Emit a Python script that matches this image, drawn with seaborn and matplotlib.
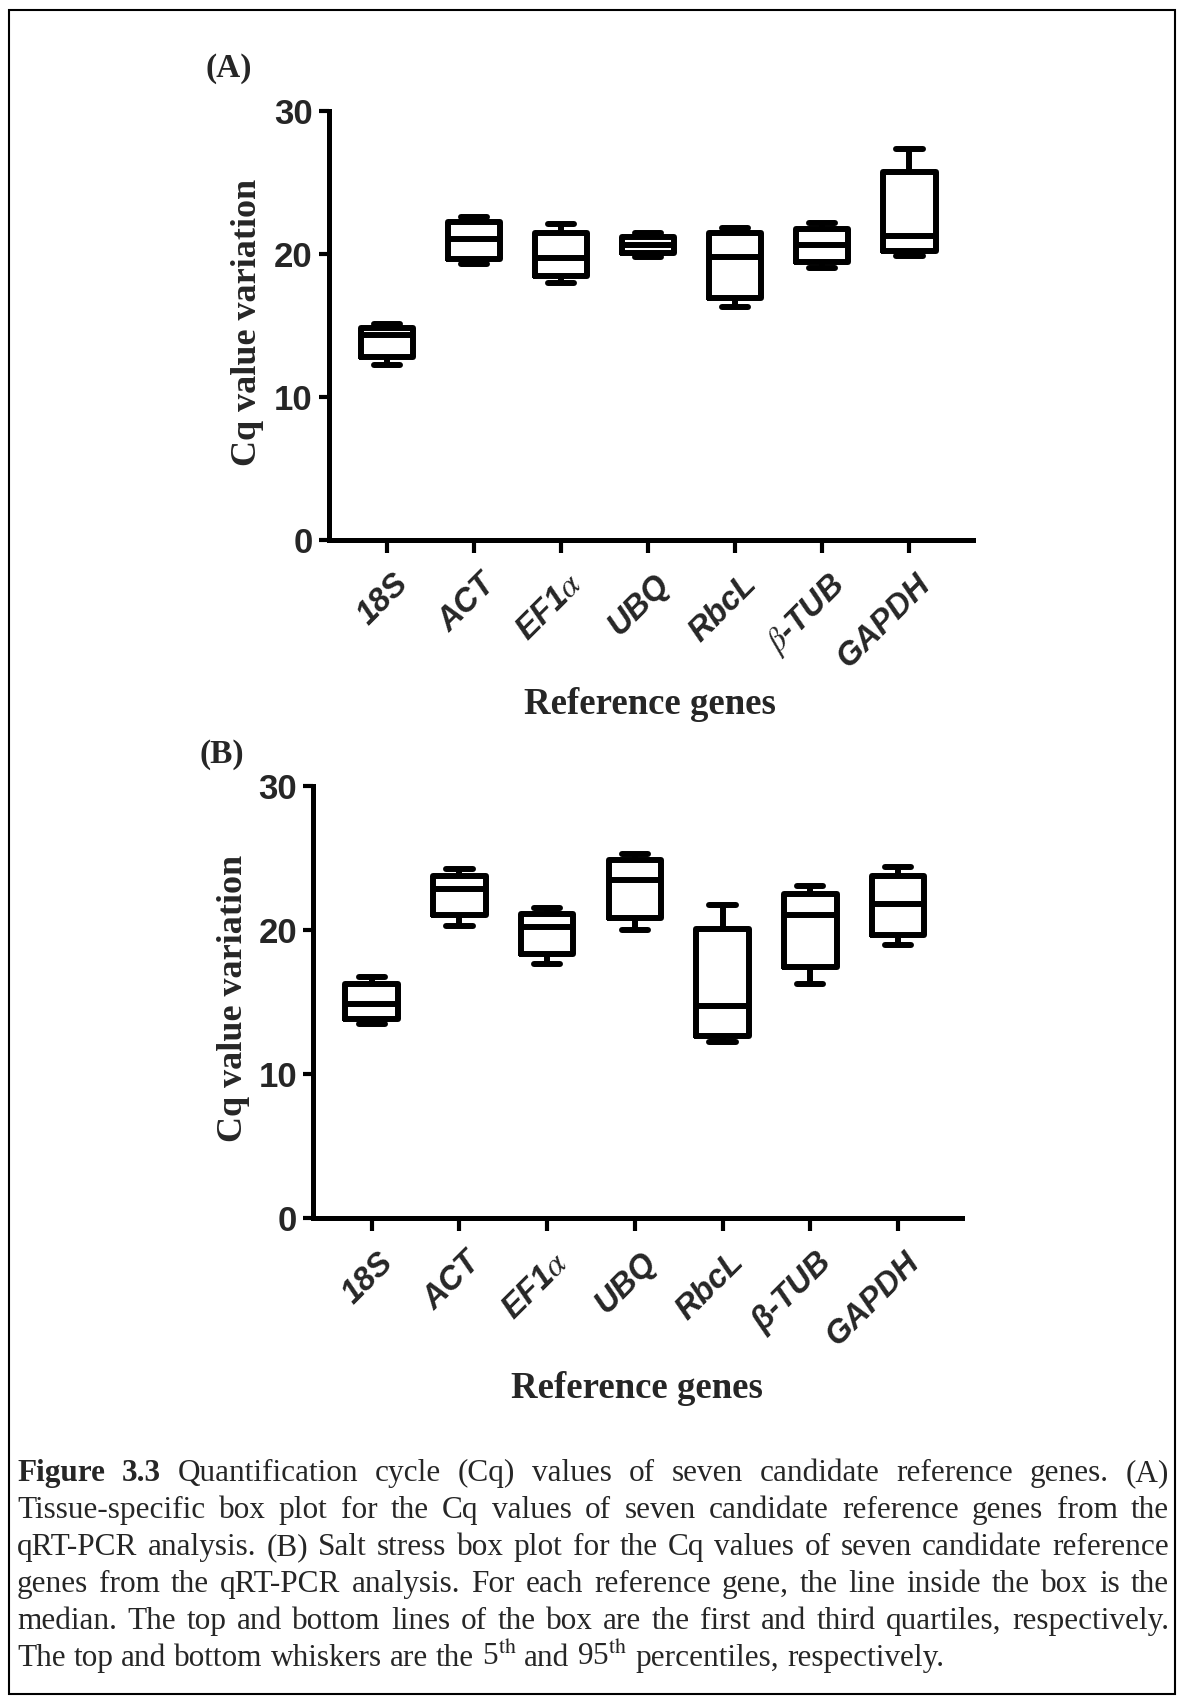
import numpy as np
import pandas as pd
import matplotlib
matplotlib.use("Agg")
import matplotlib.pyplot as plt
import matplotlib.transforms as mtransforms
import seaborn as sns
from matplotlib.patches import Rectangle

# ---------------- data ----------------
gene_ids = ["18S", "ACT", "EF1a", "UBQ", "RbcL", "b-TUB", "GAPDH"]
labels_a = ["18S", "ACT", r"EF1$\alpha$", "UBQ", "RbcL", r"$\beta$-TUB", "GAPDH"]
labels_b = ["18S", "ACT", r"EF1$\alpha$", "UBQ", "RbcL", "β-TUB", "GAPDH"]

# (A) tissue-specific: 5th pct, Q1, median, Q3, 95th pct
a_p5 = [12.25, 19.27, 17.96, 19.75, 16.28, 19.00, 19.82]
a_q1 = [12.80, 19.66, 18.47, 20.03, 16.89, 19.43, 20.22]
a_med = [14.30, 21.00, 19.68, 20.60, 19.78, 20.61, 21.24]
a_q3 = [14.80, 22.20, 21.48, 21.15, 21.43, 21.76, 25.74]
a_p95 = [15.10, 22.57, 22.06, 21.43, 21.78, 22.13, 27.35]

# (B) salt stress
b_p5 = [13.46, 20.30, 17.67, 19.99, 12.21, 16.28, 18.99]
b_q1 = [13.83, 21.07, 18.36, 20.86, 12.67, 17.44, 19.68]
b_med = [14.85, 22.87, 20.21, 23.50, 14.71, 21.03, 21.83]
b_q3 = [16.24, 23.73, 21.14, 24.84, 20.08, 22.53, 23.73]
b_p95 = [16.75, 24.22, 21.51, 25.26, 21.74, 23.04, 24.38]

y_ticks = [0, 10, 20, 30]

caption_lines = [
    "Figure 3.3 Quantification cycle (Cq) values of seven candidate reference genes. (A)",
    "Tissue-specific box plot for the Cq values of seven candidate reference genes from the",
    "qRT-PCR analysis. (B) Salt stress box plot for the Cq values of seven candidate reference",
    "genes from the qRT-PCR analysis. For each reference gene, the line inside the box is the",
    "median. The top and bottom lines of the box are the first and third quartiles, respectively.",
    r"The top and bottom whiskers are the 5$^{\mathrm{th}}$ and 95$^{\mathrm{th}}$ percentiles, respectively.",
]

# ---------------- style ----------------
sns.set_style("ticks")
SANS = ["Liberation Sans", "DejaVu Sans"]
SERIF = ["Liberation Serif", "DejaVu Serif"]
plt.rcParams["font.family"] = SANS
plt.rcParams["mathtext.fontset"] = "stix"

W, H, DPI = 1178, 1701, 100
fig = plt.figure(figsize=(W / DPI, H / DPI), dpi=DPI)
fig.patch.set_facecolor("white")


def panel(rect, p5, q1, med, q3, p95, labels):
    ax = fig.add_axes(rect)
    df = pd.DataFrame({
        "gene": np.repeat(gene_ids, 5),
        "cq": np.column_stack([p5, q1, med, q3, p95]).ravel(),
    })
    sns.boxplot(data=df, x="gene", y="cq", order=gene_ids, whis=(0, 100),
                fill=False, color="black", linewidth=4.3, width=0.6,
                showfliers=False, ax=ax)
    ax.set_xlim(-0.67, 6.73)
    ax.set_ylim(0, 30)
    ax.set_xlabel("")
    ax.set_ylabel("")
    sns.despine(ax=ax)
    for s in ["left", "bottom"]:
        ax.spines[s].set_linewidth(3.6)
        ax.spines[s].set_color("black")
    ax.set_yticks(y_ticks, labels=[str(t) for t in y_ticks],
                  fontsize=25, fontweight="bold")
    ax.set_xticks(range(len(labels)), labels=labels, rotation=45, ha="right",
                  rotation_mode="anchor", fontsize=23.5, fontweight="bold",
                  fontstyle="italic")
    ax.tick_params(axis="y", length=7.5, width=3, pad=4, color="black")
    ax.tick_params(axis="x", length=9.5, width=3, pad=9, color="black")
    offset = mtransforms.ScaledTranslation(4 / 72, -2 / 72, fig.dpi_scale_trans)
    for lbl in ax.get_xticklabels():
        lbl.set_transform(lbl.get_transform() + offset)
    ax.set_facecolor("white")
    return ax


def fx(px):
    return px / W


def fy(py):
    return 1 - py / H


panel([fx(328.7), fy(540), fx(973 - 328.7), (540 - 110.7) / H],
      a_p5, a_q1, a_med, a_q3, a_p95, labels_a)
panel([fx(313), fy(1218.3), fx(962 - 313), (1218.3 - 786) / H],
      b_p5, b_q1, b_med, b_q3, b_p95, labels_b)

# panel letters and axis titles
fig.text(fx(229), fy(68), "(A)", ha="center", va="center", family=SERIF,
         weight="bold", size=24)
fig.text(fx(222), fy(754), "(B)", ha="center", va="center", family=SERIF,
         weight="bold", size=24)
fig.text(fx(248), fy(322), "Cq value variation", rotation=90, ha="center",
         va="center", family=SERIF, weight="bold", size=26)
fig.text(fx(233), fy(998), "Cq value variation", rotation=90, ha="center",
         va="center", family=SERIF, weight="bold", size=26)
fig.text(fx(650), fy(704), "Reference genes", ha="center", va="center",
         family=SERIF, weight="bold", size=26.5)
fig.text(fx(637), fy(1388), "Reference genes", ha="center", va="center",
         family=SERIF, weight="bold", size=26.5)

# frame
fig.add_artist(Rectangle((fx(9), fy(1694)), fx(1175 - 9), (1694 - 10) / H,
                         transform=fig.transFigure, fill=False,
                         edgecolor="black", linewidth=1.5))

# justified caption
CAP_SIZE = 22.5
baselines = [1481, 1518, 1555, 1592, 1629, 1666]
renderer = fig.canvas.get_renderer()
x_left, x_right = 17, 1169
for i, line in enumerate(caption_lines):
    words = line.split(" ")
    arts = []
    for j, w in enumerate(words):
        bold = (i == 0 and j < 2)
        arts.append(fig.text(0, fy(baselines[i]), w, fontsize=CAP_SIZE,
                             family=SERIF, weight="bold" if bold else "normal",
                             ha="left", va="baseline"))
    widths = [a.get_window_extent(renderer=renderer).width for a in arts]
    if i < len(caption_lines) - 1:
        gap = ((x_right - x_left) - sum(widths)) / (len(words) - 1)
    else:
        gap = 0.25 * CAP_SIZE * DPI / 72
    x = x_left
    for a, w in zip(arts, widths):
        a.set_x(fx(x))
        x += w + gap

fig.savefig("out.png", dpi=DPI, facecolor="white")
